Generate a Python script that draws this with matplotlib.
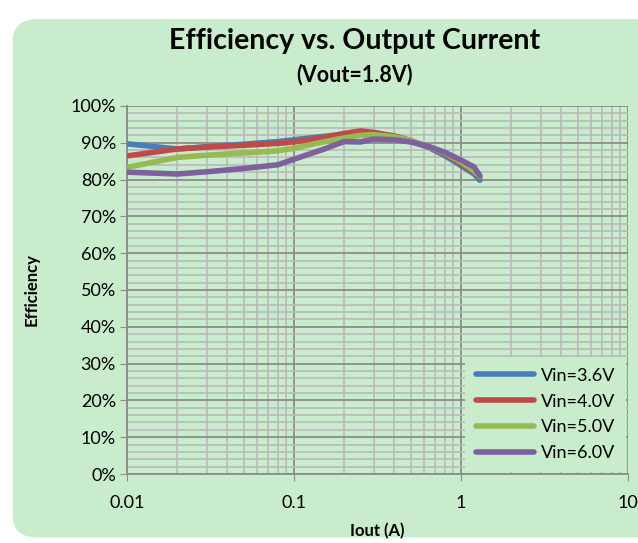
import numpy as np
import matplotlib
matplotlib.use("Agg")
import matplotlib.pyplot as plt
from matplotlib.patches import FancyBboxPatch
from matplotlib.ticker import FixedLocator, PercentFormatter, NullFormatter

# data
iout = [0.01, 0.02, 0.03, 0.05, 0.08, 0.1, 0.15, 0.2, 0.25, 0.3, 0.4, 0.5,
        0.65, 0.8, 1.0, 1.2, 1.3]
eff_36 = [89.7, 88.3, 88.9, 89.6, 90.3, 90.8, 91.7, 92.3, 92.8, 92.6, 91.8,
          90.5, 88.6, 86.5, 83.8, 81.5, 79.8]
eff_40 = [86.4, 88.3, 88.8, 89.3, 89.8, 90.2, 91.4, 92.5, 93.2, 92.8, 91.8,
          90.6, 88.7, 87.0, 84.3, 82.0, 80.5]
eff_50 = [83.3, 86.0, 86.6, 87.2, 87.8, 88.5, 90.2, 91.3, 92.0, 92.2, 91.6,
          90.6, 88.8, 87.2, 84.8, 82.3, 80.8]
eff_60 = [82.0, 81.5, 82.1, 83.0, 84.0, 85.5, 88.2, 90.3, 90.2, 91.0, 90.8,
          90.2, 88.9, 87.4, 85.3, 83.4, 81.0]
labels = ["Vin=3.6V", "Vin=4.0V", "Vin=5.0V", "Vin=6.0V"]
colors = ["#4A7EBB", "#BE4B48", "#98B954", "#7D60A0"]

bg = "#C8ECCC"
plt.rcParams['font.family'] = ['Lato', 'DejaVu Sans']

fig = plt.figure(figsize=(6.38, 5.43), dpi=100)
fig.patch.set_facecolor("white")

# rounded green panel, behind the axes
panel = FancyBboxPatch((0.02, 0.01), 1.1, 0.955,
                       boxstyle="round,pad=0,rounding_size=0.04",
                       transform=fig.transFigure, facecolor=bg,
                       edgecolor="none", zorder=-10)
fig.patches.append(panel)

ax = fig.add_axes([0.199, 0.127, 0.785, 0.678])
ax.set_facecolor(bg)

for y, c, lab in zip([eff_36, eff_40, eff_50, eff_60], colors, labels):
    ax.plot(iout, y, color=c, lw=4, label=lab, solid_capstyle="round",
            solid_joinstyle="round", zorder=3)

ax.set_xscale("log")
ax.set_xlim(0.01, 10)
ax.set_ylim(0, 100)
ax.set_xticks([0.01, 0.1, 1, 10])
ax.set_xticklabels(["0.01", "0.1", "1", "10"])
ax.xaxis.set_minor_formatter(NullFormatter())
ax.set_yticks(np.arange(0, 101, 10))
ax.yaxis.set_major_formatter(PercentFormatter(decimals=0))
ax.yaxis.set_minor_locator(FixedLocator(np.arange(0, 101, 2)))

ax.grid(which="major", color="#8C8C8C", lw=1.3, zorder=1)
ax.grid(which="minor", color="#B9B9B9", lw=1.2, zorder=1)

for s in ["top", "right"]:
    ax.spines[s].set_visible(False)
for s in ["left", "bottom"]:
    ax.spines[s].set_color("#8C8C8C")
    ax.spines[s].set_linewidth(1.3)

ax.tick_params(which="major", length=5, color="#8C8C8C", labelsize=13,
               pad=10)
ax.tick_params(which="minor", length=0)
ax.tick_params(axis="y", pad=3)

ax.set_xlabel("Iout (A)", fontsize=12, fontweight="bold", labelpad=9)
ax.set_ylabel("Efficiency", fontsize=12, fontweight="bold", labelpad=22)

fig.text(0.555, 0.925, "Efficiency vs. Output Current", ha="center",
         va="center", fontsize=20.5, fontweight="bold")
fig.text(0.555, 0.862, "(Vout=1.8V)", ha="center", va="center",
         fontsize=15.5, fontweight="bold")

leg = ax.legend(loc="lower right", frameon=True, fontsize=13,
                handlelength=3.2, labelspacing=0.55, borderaxespad=0.3,
                handletextpad=0.4)
leg.get_frame().set_facecolor(bg)
leg.get_frame().set_edgecolor("none")
leg.get_frame().set_alpha(1)
leg.get_frame().set_boxstyle("square", pad=0.2)

fig.savefig("out.png", dpi=100, facecolor=fig.get_facecolor())
